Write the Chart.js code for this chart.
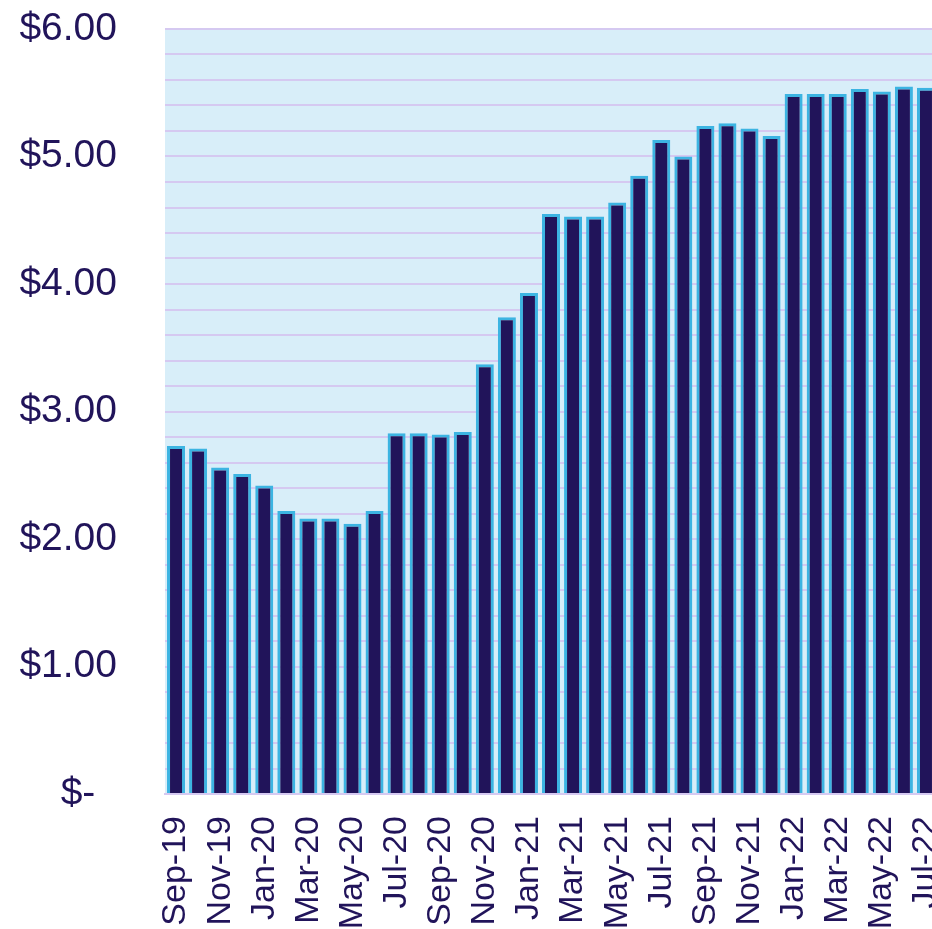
<!DOCTYPE html>
<html>
<head>
<meta charset="utf-8">
<script src="https://cdn.jsdelivr.net/npm/chart.js@4"></script>
<style>
  html, body { margin: 0; padding: 0; overflow: hidden; background: #ffffff; }
  #wrap { width: 945px; height: 929px; position: relative; }
</style>
</head>
<body>
<div id="wrap"><canvas id="c" width="945" height="929"></canvas></div>
<script>
const months = ["Sep-19","Oct-19","Nov-19","Dec-19","Jan-20","Feb-20","Mar-20","Apr-20","May-20","Jun-20",
  "Jul-20","Aug-20","Sep-20","Oct-20","Nov-20","Dec-20","Jan-21","Feb-21","Mar-21","Apr-21",
  "May-21","Jun-21","Jul-21","Aug-21","Sep-21","Oct-21","Nov-21","Dec-21","Jan-22","Feb-22",
  "Mar-22","Apr-22","May-22","Jun-22","Jul-22"];
const prices = [2.73,2.71,2.56,2.51,2.42,2.22,2.16,2.16,2.12,2.22,
  2.83,2.83,2.82,2.84,3.37,3.74,3.93,4.55,4.53,4.53,
  4.64,4.85,5.13,5.00,5.24,5.26,5.22,5.16,5.49,5.49,
  5.49,5.53,5.51,5.55,5.54];
const yTickLabels = {0:"$-  ",1:"$1.00",2:"$2.00",3:"$3.00",4:"$4.00",5:"$5.00",6:"$6.00"};

const textColor = "#21145a";
const bgPlugin = {
  id: "plotBg",
  beforeDraw(chart) {
    const a = chart.chartArea, ctx = chart.ctx;
    ctx.save();
    ctx.fillStyle = "#d8eef9";
    ctx.fillRect(a.left, a.top, a.right - a.left, a.bottom - a.top);
    ctx.restore();
  }
};

new Chart(document.getElementById("c"), {
  type: "bar",
  data: {
    labels: months,
    datasets: [{
      data: prices,
      backgroundColor: "#21145a",
      borderColor: "#3cb4e2",
      borderWidth: 3,
      barPercentage: 0.816,
      categoryPercentage: 1.0
    }]
  },
  options: {
    responsive: false,
    animation: false,
    devicePixelRatio: 1,
    layout: { padding: { top: 29, right: 8, left: 0, bottom: 0 } },
    plugins: { legend: { display: false }, tooltip: { enabled: false } },
    scales: {
      x: {
        grid: { display: false, drawTicks: false },
        border: { display: true, color: "#d5c9f1", width: 2 },
        ticks: {
          color: textColor,
          font: { family: "'Liberation Sans', Arial, sans-serif", size: 34 },
          maxRotation: 90, minRotation: 90,
          autoSkip: false,
          padding: 22,
          callback: function(v, i) { return i % 2 === 0 ? this.getLabelForValue(v) : ""; }
        },
        afterFit(s) { s.height = 135; s.paddingLeft = 0; s.paddingRight = 0; }
      },
      y: {
        min: 0, max: 6,
        grid: { color: "#d5c9f1", lineWidth: 2, drawTicks: false },
        border: { display: false },
        ticks: {
          stepSize: 0.2,
          color: textColor,
          font: { family: "'Liberation Sans', Arial, sans-serif", size: 39 },
          padding: 48,
          autoSkip: false,
          callback: function(v) {
            const r = Math.round(v);
            return Math.abs(v - r) < 1e-6 ? yTickLabels[r] : "";
          }
        },
        afterFit(s) { s.width = 165; s.paddingTop = 0; s.paddingBottom = 0; }
      }
    }
  },
  plugins: [bgPlugin]
});
</script>
</body>
</html>
